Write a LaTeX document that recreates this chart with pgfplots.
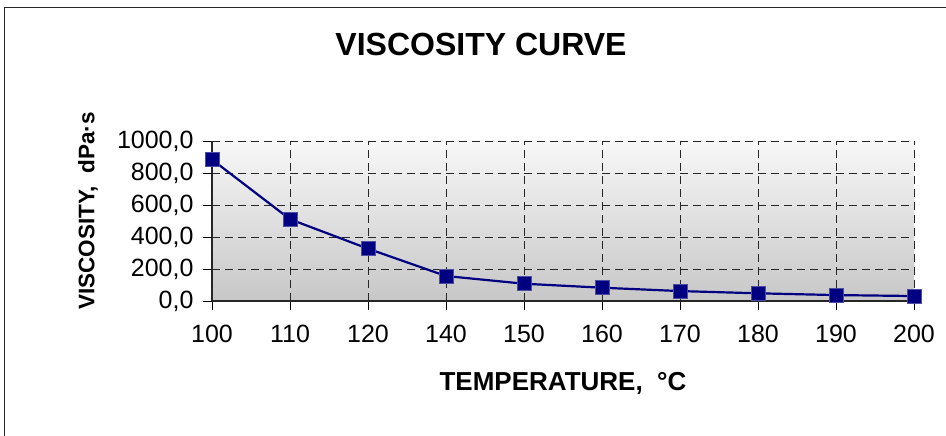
\documentclass[border=0pt]{standalone}
\usepackage{pgfplots}
\pgfplotsset{compat=1.18}
\usepackage{fontspec}
\setmainfont{Liberation Sans}
\definecolor{navyc}{HTML}{000080}
\begin{document}
\begin{tikzpicture}[x=1pt,y=1pt]
\useasboundingbox (0,0) rectangle (946,436);
\draw[line width=1.3pt, black!85] (4.5,0) -- (4.5,428.5) -- (946,428.5);
\begin{axis}[
  at={(212pt,135pt)}, anchor=south west,
  scale only axis, width=702pt, height=160pt,
  xmin=0, xmax=9, ymin=0, ymax=1000,
  xtick={0,...,9},
  xticklabels={100,110,120,140,150,160,170,180,190,200},
  ytick={0,200,...,1000},
  axis x line*=bottom, axis y line*=left,
  axis line style={line width=1.2pt, black!85, -},
  tick align=outside, major tick length=9pt,
  tick style={line width=0.9pt, black},
  grid=major,
  major grid style={dashed, dash pattern=on 8pt off 5pt, line width=0.9pt, black!85},
  axis background/.style={top color=white!97!black, bottom color=black!22},
  tick label style={font=\fontsize{25}{29}\selectfont},
  /pgf/number format/.cd, fixed, fixed zerofill, precision=1, use comma, 1000 sep={}, assume math mode=true,
  /pgfplots/.cd,
  yticklabel style={anchor=east, xshift=-6pt},
  xticklabel style={anchor=north, yshift=-12pt},
  clip=false,
]
\addplot[navyc, line width=2.2pt, mark=square*, mark size=7pt, mark options={fill=navyc, draw=navyc!70!white, line width=0.6pt}]
  coordinates {(0,884) (1,511) (2,327) (3,156) (4,108) (5,83) (6,62) (7,48) (8,37) (9,31)};
\end{axis}
\node[font=\bfseries\fontsize{32}{37}\selectfont] at (481,392) {VISCOSITY CURVE};
\node[font=\bfseries\fontsize{26}{31}\selectfont] at (563,53) {TEMPERATURE,\ \ °C};
\node[font=\bfseries\fontsize{22.5}{26}\selectfont, rotate=90] at (88,225) {VISCOSITY,\ \ dPa·s};
\end{tikzpicture}
\end{document}
